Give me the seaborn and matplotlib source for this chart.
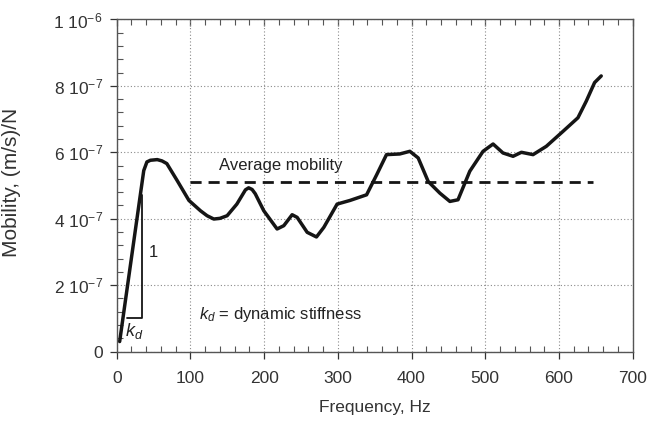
import numpy as np
import pandas as pd
import matplotlib
matplotlib.use("Agg")
import matplotlib.pyplot as plt
import seaborn as sns
from matplotlib.ticker import MultipleLocator, FixedLocator, FixedFormatter

# ---- data ----
freq = [4, 36.7, 41, 45.7, 55, 61.5, 68, 82, 98, 113.6, 122.6, 131.7, 140,
        149.8, 163, 174.7, 179, 183.7, 188, 199.5, 217.6, 226.7, 238, 244.8,
        258.4, 271, 281, 299, 316.5, 339, 352.6, 366, 384, 397.7, 409, 422.6,
        438.4, 452, 463, 479, 497, 510.6, 524, 537.7, 549, 564.8, 582.8,
        605.4, 625.7, 637, 648.3, 657.3]
mobility = [0.30, 5.45, 5.71, 5.76, 5.78, 5.74, 5.66, 5.15, 4.55, 4.24, 4.09,
            3.99, 4.01, 4.09, 4.44, 4.87, 4.93, 4.88, 4.75, 4.24, 3.69, 3.79,
            4.12, 4.04, 3.59, 3.45, 3.74, 4.44, 4.55, 4.72, 5.32, 5.93, 5.95,
            6.03, 5.83, 5.12, 4.77, 4.52, 4.57, 5.43, 6.03, 6.25, 5.98, 5.88,
            6.00, 5.93, 6.18, 6.63, 7.04, 7.54, 8.10, 8.30]
mobility = [v * 1e-7 for v in mobility]

avg_freq = [100, 646]
avg_mobility = [5.1e-7, 5.1e-7]

tri_x = [14, 34.4, 34.4]
tri_y = [1.0e-7, 1.0e-7, 4.7e-7]

yticks = [0, 2e-7, 4e-7, 6e-7, 8e-7, 1e-6]
ytick_labels = ["0", r"$\mathregular{2\ 10^{-7}}$", r"$\mathregular{4\ 10^{-7}}$",
                r"$\mathregular{6\ 10^{-7}}$", r"$\mathregular{8\ 10^{-7}}$",
                r"$\mathregular{1\ 10^{-6}}$"]
xticks = [0, 100, 200, 300, 400, 500, 600, 700]

df = pd.DataFrame({"Frequency": freq, "Mobility": mobility})
df_avg = pd.DataFrame({"Frequency": avg_freq, "Mobility": avg_mobility})

sns.set_style("white")
plt.rcParams["font.family"] = ["Liberation Sans", "DejaVu Sans"]
plt.rcParams["mathtext.fontset"] = "custom"
plt.rcParams["mathtext.rm"] = "Liberation Sans"
plt.rcParams["mathtext.it"] = "Liberation Sans:italic"

fig = plt.figure(figsize=(6.49, 4.24), dpi=100)
ax = fig.add_axes([116.7 / 649, 1 - 351.5 / 424, (632.7 - 116.7) / 649, (351.5 - 19.5) / 424])

sns.lineplot(data=df, x="Frequency", y="Mobility", ax=ax, sort=False,
             color="#151515", lw=2.5, estimator=None,
             solid_joinstyle="round", solid_capstyle="round")
sns.lineplot(data=df_avg, x="Frequency", y="Mobility", ax=ax, sort=False,
             color="#151515", lw=2.0, estimator=None, linestyle=(0, (4, 2.5)))
ax.plot(tri_x, tri_y, color="#151515", lw=1.3)

ax.set_xlim(0, 700)
ax.set_ylim(0, 1e-6)
ax.xaxis.set_major_locator(FixedLocator(xticks))
ax.xaxis.set_minor_locator(MultipleLocator(20))
ax.yaxis.set_major_locator(FixedLocator(yticks))
ax.yaxis.set_major_formatter(FixedFormatter(ytick_labels))
ax.yaxis.set_minor_locator(MultipleLocator(4e-8))

ax.grid(True, which="major", color="#8a8a8a", linestyle=(0, (1, 2)), lw=0.8)
ax.tick_params(axis="x", which="major", direction="out", length=5, width=0.9,
               labelsize=12.5, colors="#333333", pad=9, bottom=True, top=False)
ax.tick_params(axis="y", which="major", direction="out", length=5, width=0.9,
               labelsize=12.5, colors="#333333", pad=5, left=True, right=False)
ax.tick_params(axis="x", which="minor", direction="in", length=4, width=0.8,
               bottom=True, top=True, colors="#555555")
ax.tick_params(axis="y", which="minor", direction="in", length=4, width=0.8,
               left=True, right=False, colors="#555555")
for s in ax.spines.values():
    s.set_color("#555555")
    s.set_linewidth(1.0)

# inward major ticks on the top edge
ax_top = ax.secondary_xaxis("top")
ax_top.set_xticks(xticks)
ax_top.tick_params(direction="in", length=5, width=0.9, labeltop=False, colors="#555555")
ax_top.spines["top"].set_visible(False)

ax.set_xlabel("Frequency, Hz", fontsize=12.5, color="#333333")
ax.set_ylabel("Mobility, (m/s)/N", fontsize=15, color="#333333")
ax.xaxis.set_label_coords(0.5, -0.146)
ax.yaxis.set_label_coords(-0.185, 0.51)

ax.text(223, 5.6e-7, "Average mobility", fontsize=12, color="#222222",
        ha="center", va="center")
ax.text(50, 2.98e-7, "1", fontsize=12, color="#222222", ha="center", va="center")
ax.text(24, 0.62e-7, r"$k_d$", fontsize=13, color="#222222", ha="center", va="center")
ax.text(112, 1.1e-7, r"$k_d$ = dynamic stiffness", fontsize=12, color="#222222",
        ha="left", va="center")

fig.savefig("out.png", dpi=100)
